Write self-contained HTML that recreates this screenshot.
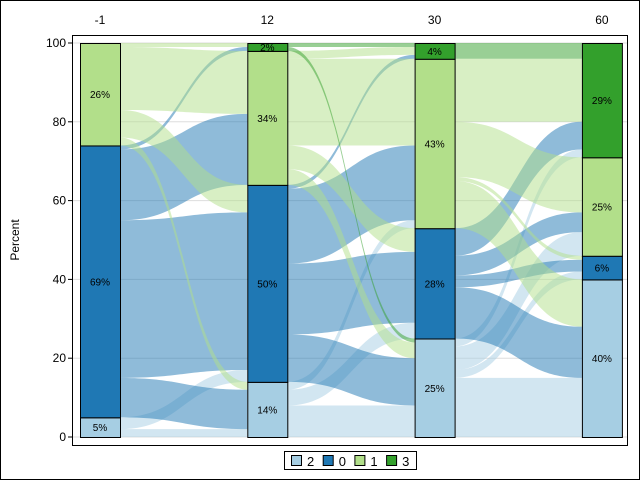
<!DOCTYPE html>
<html><head><meta charset="utf-8"><style>
body{margin:0;background:#fff}
svg{display:block;font-family:"Liberation Sans",sans-serif}
</style></head><body>
<svg id="c" width="640" height="480" xmlns="http://www.w3.org/2000/svg">
<rect x="0.5" y="0.5" width="639" height="479" fill="#fff" stroke="#000"/>
<rect x="72.5" y="35.5" width="555" height="410" fill="#fff" stroke="#000"/>
<g id="grid"></g><g id="flows"></g><g id="bars"></g><g id="axes"></g>
<text x="19" y="240" font-size="12" text-anchor="middle" transform="rotate(-90 19 240)">Percent</text>
<g>
<rect x="284.5" y="451.5" width="132" height="18" fill="#fff" stroke="#000"/>
</g>
<g id="leg"></g>
</svg>
<script>
const times=["-1","12","30","60"];
const cats=["2","0","1","3"];
const colors=["#a6cee3","#1f78b4","#b2df8a","#33a02c"];
const pct_m1=[5,69,26,0];
const pct_12=[14,50,34,2];
const pct_30=[25,28,43,4];
const pct_60=[40,6,25,29];
const flow_m1_12=[[2,3,0,0],[10,40,18,1],[2,7,16,1],[0,0,0,0]];
const flow_12_30=[[8,4,2,0],[12,18,19,1],[4,6,22,2],[1,0,0,1]];
const flow_30_60=[[15,2,6,2],[13,3,5,7],[12,1,14,16],[0,0,0,4]];
const yTicks=[0,20,40,60,80,100];

const pcts=[pct_m1,pct_12,pct_30,pct_60];
const flows=[flow_m1_12,flow_12_30,flow_30_60];
const NS="http://www.w3.org/2000/svg";
const y=v=>437-v*3.94;
const xc=i=>100+i*167.3;
const BW=40;
function mk(t,a,p){const e=document.createElementNS(NS,t);for(const k in a)e.setAttribute(k,a[k]);p.appendChild(e);return e;}
const grid=document.getElementById('grid'),axes=document.getElementById('axes');
yTicks.forEach(v=>{
 const g=mk('line',{x1:73,x2:627,y1:y(v),y2:y(v),stroke:'#dddddd'},grid);
 
 
 const t=mk('line',{x1:68,x2:72,y1:y(v),y2:y(v),stroke:'#000'},axes);
 
 
 const l=mk('text',{x:66,y:y(v)+4,'font-size':12,'text-anchor':'end'},axes);l.textContent=v;
 
 
});
times.forEach((tm,i)=>{
 const l=mk('text',{x:xc(i),y:24,'font-size':12,'text-anchor':'middle'},axes);l.textContent=tm;
 
 
});
const fg=document.getElementById('flows');
flows.forEach((m,k)=>{
 const srcOff=[0,0,0,0];let b=0;pcts[k].forEach((v,i)=>{srcOff[i]=b;b+=v;});
 const tgtOff=[0,0,0,0];b=0;pcts[k+1].forEach((v,i)=>{tgtOff[i]=b;b+=v;});
 const x0=xc(k)+BW/2,x1=xc(k+1)-BW/2,xm=(x0+x1)/2;
 for(let s=0;s<4;s++)for(let t=0;t<4;t++){
  const v=m[s][t];if(!v)continue;
  const s0=srcOff[s],t0=tgtOff[t];srcOff[s]+=v;tgtOff[t]+=v;
  const d=`M${x0},${y(s0)} C${xm},${y(s0)} ${xm},${y(t0)} ${x1},${y(t0)} L${x1},${y(t0+v)} C${xm},${y(t0+v)} ${xm},${y(s0+v)} ${x0},${y(s0+v)} Z`;
  const p=mk('path',{d:d,fill:colors[s],'fill-opacity':0.5},fg);
  
  
 }
});
const bg=document.getElementById('bars');
pcts.forEach((arr,i)=>{let b=0;arr.forEach((v,c)=>{
 if(v>0){
  const r=mk('rect',{x:xc(i)-BW/2+0.5,y:y(b+v)+0.5,width:BW,height:v*3.94,fill:colors[c],stroke:'#000'},bg);
  
  
  const l=mk('text',{x:xc(i),y:y(b+v/2)+4,'font-size':10,'text-anchor':'middle'},bg);l.textContent=v+'%';
  
  
 }
 b+=v;});});
const lg=document.getElementById('leg');
cats.forEach((c,i)=>{
 const x=291+i*31.7;
 const r=mk('rect',{x:x+0.5,y:455.5,width:10,height:10,fill:colors[i],stroke:'#000'},lg);
 
 
 const t=mk('text',{x:x+16,y:466,'font-size':13},lg);t.textContent=c;
 
 
});
</script>
</body></html>
